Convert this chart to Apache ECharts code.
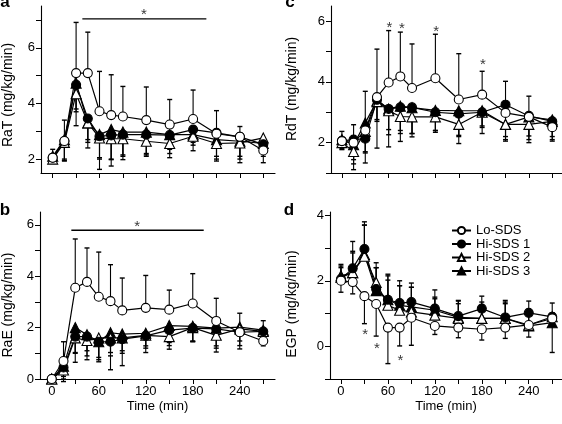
<!DOCTYPE html>
<html>
<head>
<meta charset="utf-8">
<script src="https://cdn.jsdelivr.net/npm/echarts@6/dist/echarts.min.js"></script>
<style>
html,body{margin:0;padding:0;background:#fff;}
#chart{width:562px;height:424px;}
</style>
</head>
<body>
<div id="chart"></div>
<script>
// ---------------- data ----------------
const time = [0, 15, 30, 45, 60, 75, 90, 120, 150, 180, 210, 240, 270];
const groupNames = ['Lo-SDS', 'Hi-SDS 1', 'Hi-SDS 2', 'Hi-SDS 3'];

// Panel a: RaT
const aLo   = [2.05, 2.65, 5.09, 5.09, 3.72, 3.58, 3.53, 3.40, 3.24, 3.44, 2.91, 2.80, 2.31];
const aHi1  = [2.05, 2.65, 4.67, 3.46, 2.82, 2.85, 2.88, 2.88, 2.86, 3.06, 2.94, 2.80, 2.53];
const aHi2  = [2.00, 2.60, 4.35, 3.30, 2.76, 2.73, 2.73, 2.64, 2.56, 2.82, 2.56, 2.58, 2.76];
const aHi3  = [2.10, 2.70, 4.73, 3.30, 2.88, 3.06, 2.97, 2.97, 2.88, 2.88, 2.70, 2.64, 2.56];
const aLoSD  = [0.30, 0.75, 1.82, 1.47, 1.43, 1.45, 1.08, 1.19, 0.90, 1.04, 0.83, 0.37, 0.20];
const aHi1SD = [0.15, 0.70, 1.47, 1.06, 1.19, 0.87, 0.73, 0.68, 0.51, 0.76, 1.01, 0.70, 0.66];
const aHi2SD = [0.15, 0.67, 0.55, 0.60, 0.71, 0.98, 0.75, 0.54, 0.51, 0.22, 0.46, 0.71, 0.46];
const aHi3SD = [0.20, 0.70, 1.03, 0.70, 0.88, 1.06, 0.87, 0.82, 0.68, 0.38, 0.70, 0.64, 0.46];

// Panel b: RaE
const bLo   = [0.00, 0.70, 3.55, 3.78, 3.20, 3.03, 2.67, 2.77, 2.70, 2.94, 2.26, 1.82, 1.48];
const bHi1  = [0.00, 0.45, 1.65, 1.65, 1.45, 1.45, 1.55, 1.68, 1.90, 1.98, 1.95, 1.82, 1.85];
const bHi2  = [0.00, 0.35, 1.60, 1.50, 1.60, 1.60, 1.60, 1.70, 1.65, 2.00, 1.70, 1.95, 1.85];
const bHi3  = [0.00, 0.50, 2.00, 1.72, 1.45, 1.80, 1.75, 1.78, 2.08, 2.05, 1.98, 2.02, 1.90];
const bLoSD  = [0.05, 0.75, 1.90, 1.32, 1.74, 1.42, 1.26, 1.26, 0.76, 1.16, 0.88, 0.74, 0.79];
const bHi1SD = [0.00, 0.55, 1.00, 0.90, 0.78, 1.09, 1.03, 0.65, 0.74, 0.52, 0.90, 0.65, 0.56];
const bHi2SD = [0.00, 0.35, 0.57, 0.40, 0.76, 0.57, 0.50, 0.41, 0.23, 0.52, 0.41, 0.47, 0.35];
const bHi3SD = [0.00, 0.40, 1.00, 0.82, 0.70, 0.90, 0.75, 0.58, 0.78, 0.60, 0.78, 0.72, 0.50];

// Panel c: RdT
const cLo   = [2.05, 2.00, 2.40, 3.50, 3.98, 4.18, 3.80, 4.12, 3.42, 3.58, 2.98, 2.85, 2.51];
const cHi1  = [2.06, 2.10, 2.13, 3.41, 3.11, 3.16, 3.16, 3.00, 2.95, 3.00, 3.25, 2.88, 2.70];
const cHi2  = [2.00, 1.71, 2.37, 3.35, 3.05, 2.86, 2.85, 2.85, 2.60, 3.00, 2.60, 2.60, 2.70];
const cHi3  = [2.10, 1.93, 2.65, 3.38, 3.11, 3.20, 3.15, 3.06, 3.05, 3.05, 2.60, 2.85, 2.75];
const cLoSD  = [0.32, 0.59, 1.29, 1.58, 1.71, 1.46, 1.45, 1.45, 1.51, 0.77, 1.04, 0.68, 0.29];
const cHi1SD = [0.26, 0.66, 0.80, 1.59, 1.25, 1.12, 0.97, 0.66, 0.98, 0.70, 1.20, 0.88, 0.65];
const cHi2SD = [0.23, 0.60, 0.71, 0.59, 0.79, 0.46, 0.55, 0.45, 0.36, 0.45, 0.40, 0.38, 0.50];
const cHi3SD = [0.25, 0.63, 0.95, 0.68, 0.68, 0.90, 0.85, 0.66, 0.85, 0.55, 0.50, 0.75, 0.65];

// Panel d: EGP
const dLo   = [2.00, 1.96, 1.53, 1.29, 0.57, 0.57, 0.87, 0.62, 0.57, 0.52, 0.57, 0.65, 0.85];
const dHi1  = [2.05, 2.38, 2.97, 1.75, 1.42, 1.32, 1.35, 1.15, 0.92, 1.15, 0.88, 1.02, 0.90];
const dHi2  = [2.10, 2.25, 2.75, 1.95, 1.25, 1.10, 1.05, 0.95, 0.85, 0.85, 0.85, 0.65, 0.90];
const dHi3  = [2.15, 2.25, 2.80, 1.70, 1.42, 1.25, 1.20, 1.10, 0.88, 0.85, 0.85, 0.62, 0.72];
const dLoSD  = [0.35, 0.36, 0.84, 0.98, 1.10, 0.56, 0.84, 0.26, 0.31, 0.33, 0.33, 0.37, 1.04];
const dHi1SD = [0.45, 0.82, 0.83, 0.80, 0.78, 0.68, 0.58, 0.57, 0.48, 0.38, 0.52, 0.36, 0.42];
const dHi2SD = [0.30, 0.65, 0.95, 0.45, 0.90, 0.75, 0.75, 0.50, 0.45, 0.50, 0.45, 0.45, 0.10];
const dHi3SD = [0.30, 0.60, 0.90, 0.70, 0.60, 0.60, 0.60, 0.40, 0.50, 0.40, 0.50, 0.40, 0.30];

// significance annotations (data units)
const sigBarA = [[38, 7.04], [197, 7.04]];
const sigStarA = [[117, 7.28]];
const sigBarB = [[25, 5.79], [194, 5.79]];
const sigStarB = [[109, 6.05]];
const sigStarC = [[61, 5.89], [77, 5.85], [121, 5.74], [181, 4.66]];
const sigStarD = [[31, 0.43], [46, 0.0], [76, -0.34]];

// tick values
const xTicks = [0, 30, 60, 90, 120, 150, 180, 210, 240, 270];
const xLabels = [0, 60, 120, 180, 240];
const aYTicks = [2, 3, 4, 5, 6, 7], aYLabels = [2, 4, 6];
const bYTicks = [0, 1, 2, 3, 4, 5, 6], bYLabels = [0, 2, 4, 6];
const cYTicks = [1, 2, 3, 4, 5, 6], cYLabels = [2, 4, 6];
const dYTicks = [-1, 0, 1, 2, 3, 4], dYLabels = [0, 2, 4];

// ---------------- chart ----------------
const FONT = '"Liberation Sans", Arial, Helvetica, sans-serif';
const chart = echarts.init(document.getElementById('chart'), null, {renderer: 'canvas'});

const symbolStyles = [
  {symbol: 'circle', fill: '#fff'},
  {symbol: 'circle', fill: '#000'},
  {symbol: 'triangle', fill: '#fff'},
  {symbol: 'triangle', fill: '#000'}
];

function lineSeries(gi, vals, panel) {
  const s = symbolStyles[gi];
  return {
    type: 'line', name: groupNames[gi], xAxisIndex: panel, yAxisIndex: panel,
    data: time.map((t, i) => [t, vals[i]]),
    symbol: s.symbol, symbolSize: s.symbol === 'circle' ? 9 : 10,
    showAllSymbol: true,
    lineStyle: {color: '#000', width: 1.2},
    itemStyle: {color: s.fill, borderColor: '#000', borderWidth: 1.1},
    z: 5 + (gi === 0 ? 1 : 0),
    animation: false,
    emphasis: {disabled: true}
  };
}

function errSeries(gi, vals, sds, dir, panel) {
  return {
    type: 'custom', name: 'err ' + groupNames[gi] + ' ' + panel, xAxisIndex: panel, yAxisIndex: panel,
    data: time.map((t, i) => [t, vals[i], sds[i]]),
    z: 3, animation: false, silent: true,
    renderItem: function (params, api) {
      const x = api.value(0), y = api.value(1), e = api.value(2);
      const p0 = api.coord([x, y]);
      const p1 = api.coord([x, y + dir * e]);
      const w = 2.5;
      return {
        type: 'group',
        children: [
          {type: 'line', shape: {x1: p0[0], y1: p0[1], x2: p1[0], y2: p1[1]}, style: {stroke: '#000', lineWidth: 1.1}},
          {type: 'line', shape: {x1: p1[0] - w, y1: p1[1], x2: p1[0] + w, y2: p1[1]}, style: {stroke: '#000', lineWidth: 1.4}}
        ]
      };
    }
  };
}

function starSeries(pts, panel) {
  return {
    type: 'scatter', name: 'sig star ' + panel, xAxisIndex: panel, yAxisIndex: panel, data: pts,
    symbolSize: 0, silent: true, animation: false, z: 10,
    label: {show: true, formatter: '*', position: 'inside', color: '#000', fontSize: 15, fontFamily: FONT, offset: [0, 3]}
  };
}

function barSeries(pts, panel) {
  return {
    type: 'line', name: 'sig bar ' + panel, xAxisIndex: panel, yAxisIndex: panel, data: pts,
    symbol: 'none', lineStyle: {color: '#000', width: 1.3}, silent: true, animation: false, z: 10
  };
}

const panels = [
  {vals: [aLo, aHi1, aHi2, aHi3], sds: [aLoSD, aHi1SD, aHi2SD, aHi3SD], loDir: 1},
  {vals: [bLo, bHi1, bHi2, bHi3], sds: [bLoSD, bHi1SD, bHi2SD, bHi3SD], loDir: 1},
  {vals: [cLo, cHi1, cHi2, cHi3], sds: [cLoSD, cHi1SD, cHi2SD, cHi3SD], loDir: 1},
  {vals: [dLo, dHi1, dHi2, dHi3], sds: [dLoSD, dHi1SD, dHi2SD, dHi3SD], loDir: -1}
];

const grids = [
  {left: 41, top: 6, width: 234, height: 167},
  {left: 40, top: 212, width: 235, height: 167},
  {left: 331, top: 6, width: 231, height: 167},
  {left: 330, top: 212, width: 232, height: 167}
];

const yCfg = [
  {min: 1.5, max: 7.5, ticks: aYTicks, labels: aYLabels},
  {min: 0, max: 6.5, ticks: bYTicks, labels: bYLabels},
  {min: 1, max: 6.5, ticks: cYTicks, labels: cYLabels},
  {min: -1, max: 4.1, ticks: dYTicks, labels: dYLabels}
];
const xCfg = [
  {min: -15, max: 285, showLabels: false},
  {min: -15, max: 285, showLabels: true},
  {min: -14, max: 282.5, showLabels: false},
  {min: -14, max: 282.5, showLabels: true}
];

const axisLineStyle = {show: true, onZero: false, lineStyle: {color: '#000', width: 1.1}};

const xAxes = xCfg.map((c, i) => ({
  type: 'value', gridIndex: i, min: c.min, max: c.max,
  axisLine: axisLineStyle,
  axisTick: {show: true, inside: false, length: 5, lineStyle: {color: '#000', width: 1}, customValues: xTicks},
  axisLabel: {show: c.showLabels, customValues: xLabels, color: '#000', fontSize: 13, fontFamily: FONT, margin: 6},
  splitLine: {show: false},
  name: c.showLabels ? 'Time (min)' : '',
  nameLocation: 'middle', nameGap: 21,
  nameTextStyle: {color: '#000', fontSize: 13, fontFamily: FONT}
}));

const yAxes = yCfg.map((c, i) => ({
  type: 'value', gridIndex: i, min: c.min, max: c.max,
  axisLine: axisLineStyle,
  axisTick: {show: true, inside: false, length: 5, lineStyle: {color: '#000', width: 1}, customValues: c.ticks},
  axisLabel: {show: true, customValues: c.labels, color: '#000', fontSize: 13, fontFamily: FONT, margin: 6},
  splitLine: {show: false}
}));

const series = [];
panels.forEach((p, pi) => {
  [3, 2, 1, 0].forEach(gi => series.push(lineSeries(gi, p.vals[gi], pi)));
});
panels.forEach((p, pi) => {
  p.vals.forEach((v, gi) => {
    const dir = gi === 0 ? p.loDir : -p.loDir;
    series.push(errSeries(gi, v, p.sds[gi], dir, pi));
  });
});
series.push(barSeries(sigBarA, 0), starSeries(sigStarA, 0));
series.push(barSeries(sigBarB, 1), starSeries(sigStarB, 1));
series.push(starSeries(sigStarC, 2));
series.push(starSeries(sigStarD, 3));

function yName(text, x, y) {
  return {type: 'text', x: x, y: y, rotation: Math.PI / 2,
    style: {text: text, fill: '#000', font: '14px ' + FONT, textAlign: 'center', textVerticalAlign: 'middle'}};
}
function letter(text, x, y) {
  return {type: 'text', x: x, y: y,
    style: {text: text, fill: '#000', font: 'bold 17px ' + FONT, textAlign: 'center', textVerticalAlign: 'middle'}};
}

chart.setOption({
  backgroundColor: '#fff',
  animation: false,
  grid: grids,
  xAxis: xAxes,
  yAxis: yAxes,
  legend: {
    data: groupNames,
    orient: 'vertical', left: 446, top: 219,
    itemWidth: 19, itemHeight: 9, itemGap: 0.5, itemTextGap: 4,
    textStyle: {color: '#000', fontSize: 13, fontFamily: FONT},
    selectedMode: false
  },
  graphic: [
    yName('RaT (mg/kg/min)', 8, 95),
    yName('RaE (mg/kg/min)', 8, 305),
    yName('RdT (mg/kg/min)', 292, 89),
    yName('EGP (mg/kg/min)', 292, 304),
    letter('a', 5, 2),
    letter('b', 5, 210),
    letter('c', 290, 2),
    letter('d', 289, 210)
  ],
  series: series
});
</script>
</body>
</html>
